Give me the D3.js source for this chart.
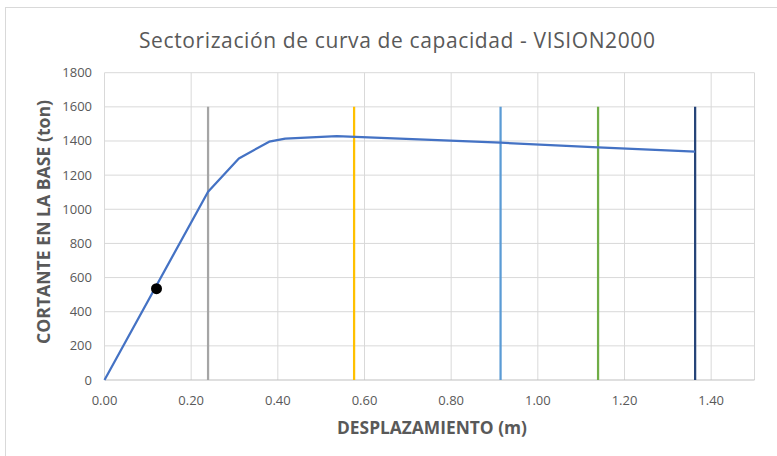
<!DOCTYPE html>
<html>
<head>
<meta charset="utf-8">
<script src="https://cdn.jsdelivr.net/npm/d3@7.9.0/dist/d3.min.js"></script>
<style>
  body { margin: 0; background: #fff; }
  svg { display: block; font-family: "Open Sans", "Noto Sans", sans-serif; }
</style>
</head>
<body>
<svg id="chart" width="777" height="456"></svg>
<script>
// curva de capacidad (desplazamiento m, cortante ton)
const curveX = [0, 0.239, 0.310, 0.380, 0.417, 0.536, 0.914, 1.139, 1.363];
const curveY = [0, 1103, 1298, 1396, 1414, 1428, 1390, 1363, 1337];

// sectores VISION2000
const sectorX = [0.239, 0.576, 0.914, 1.139, 1.363];
const sectorColors = ['#a5a5a5', '#ffc000', '#5b9bd5', '#70ad47', '#264478'];
const sectorTop = 1600;

// punto de desempeño
const pointX = [0.120];
const pointY = [535];

const xTicks = [0, 0.2, 0.4, 0.6, 0.8, 1.0, 1.2, 1.4];
const yTicks = [0, 200, 400, 600, 800, 1000, 1200, 1400, 1600, 1800];

const svg = d3.select('#chart');

// borde del gráfico
svg.append('rect')
   .attr('x', 5.5).attr('y', 7.5)
   .attr('width', 800).attr('height', 500)
   .attr('fill', 'none').attr('stroke', '#d9d9d9');

const x = d3.scaleLinear().domain([0, 1.5]).range([104.5, 754.5]);
const y = d3.scaleLinear().domain([0, 1800]).range([380, 72.7]);

// grilla
svg.append('g')
   .selectAll('line.v')
   .data(xTicks.concat([1.5]))
   .join('line')
   .attr('x1', d => x(d)).attr('x2', d => x(d))
   .attr('y1', y(1800)).attr('y2', y(0))
   .attr('stroke', '#d9d9d9').attr('stroke-width', 1);

svg.append('g')
   .selectAll('line.h')
   .data(yTicks.slice(1))
   .join('line')
   .attr('x1', x(0)).attr('x2', x(1.5))
   .attr('y1', d => y(d)).attr('y2', d => y(d))
   .attr('stroke', '#d9d9d9').attr('stroke-width', 1);

// eje x
svg.append('line')
   .attr('x1', x(0)).attr('x2', x(1.5))
   .attr('y1', y(0)).attr('y2', y(0))
   .attr('stroke', '#bfbfbf').attr('stroke-width', 1);

// etiquetas
svg.append('g')
   .selectAll('text')
   .data(xTicks)
   .join('text')
   .attr('x', d => x(d)).attr('y', 405)
   .attr('text-anchor', 'middle')
   .attr('font-size', 13).attr('fill', '#595959')
   .text(d => d.toFixed(2));

svg.append('g')
   .selectAll('text')
   .data(yTicks)
   .join('text')
   .attr('x', 92).attr('y', d => y(d) + 4.5)
   .attr('text-anchor', 'end')
   .attr('font-size', 13).attr('fill', '#595959')
   .text(d => d);

// líneas de sectorización
svg.append('g')
   .selectAll('line')
   .data(sectorX)
   .join('line')
   .attr('x1', d => x(d)).attr('x2', d => x(d))
   .attr('y1', y(0)).attr('y2', y(sectorTop))
   .attr('stroke', (d, i) => sectorColors[i])
   .attr('stroke-width', 2.25);

// curva
const line = d3.line().x(d => x(d[0])).y(d => y(d[1]));
svg.append('path')
   .datum(d3.zip(curveX, curveY))
   .attr('d', line)
   .attr('fill', 'none')
   .attr('stroke', '#4472c4')
   .attr('stroke-width', 2.25)
   .attr('stroke-linejoin', 'round');

svg.append('g')
   .selectAll('circle')
   .data(d3.zip(pointX, pointY))
   .join('circle')
   .attr('cx', d => x(d[0])).attr('cy', d => y(d[1]))
   .attr('r', 5.5)
   .attr('fill', '#000');

// títulos
svg.append('text')
   .attr('x', 397).attr('y', 48)
   .attr('text-anchor', 'middle')
   .attr('font-size', 21).attr('fill', '#595959')
   .attr('textLength', 516).attr('lengthAdjust', 'spacing')
   .text('Sectorización de curva de capacidad - VISION2000');

svg.append('text')
   .attr('x', 432).attr('y', 434)
   .attr('text-anchor', 'middle')
   .attr('font-size', 17).attr('font-weight', 'bold').attr('fill', '#595959')
   .attr('textLength', 190).attr('lengthAdjust', 'spacingAndGlyphs')
   .text('DESPLAZAMIENTO (m)');

svg.append('text')
   .attr('transform', `translate(50, 222) rotate(-90)`)
   .attr('text-anchor', 'middle')
   .attr('font-size', 17).attr('font-weight', 'bold').attr('fill', '#595959')
   .attr('textLength', 244).attr('lengthAdjust', 'spacingAndGlyphs')
   .text('CORTANTE EN LA BASE (ton)');
</script>
</body>
</html>
